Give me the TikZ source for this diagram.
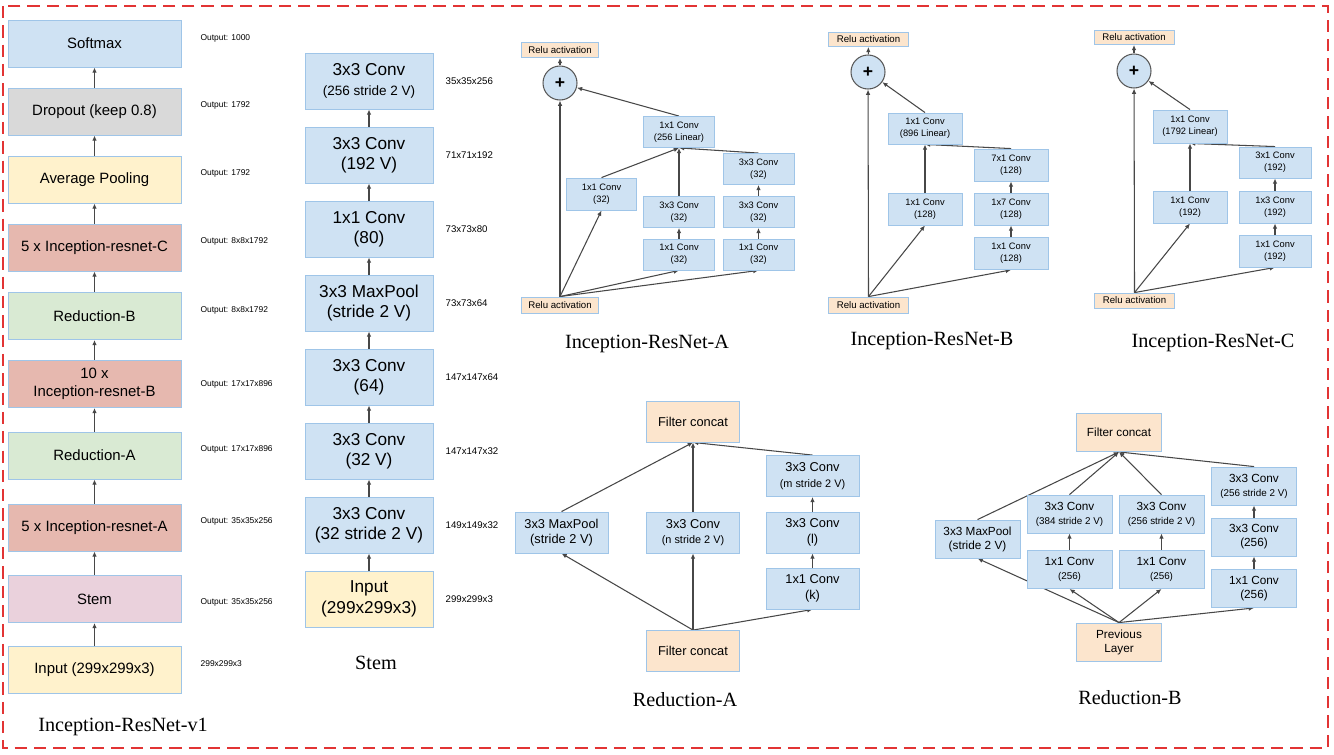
\documentclass[tikz,border=0pt]{standalone}
\usepackage{fontspec}
\setmainfont{Liberation Sans}
\newfontfamily\titlefont{Liberation Serif}
\usetikzlibrary{arrows.meta,positioning,backgrounds}
\definecolor{bluef}{RGB}{207,226,243}
\definecolor{grayf}{RGB}{217,217,217}
\definecolor{yellowf}{RGB}{255,242,204}
\definecolor{redf}{RGB}{230,184,175}
\definecolor{greenf}{RGB}{217,234,211}
\definecolor{pinkf}{RGB}{234,209,220}
\definecolor{orangef}{RGB}{252,229,205}
\definecolor{edgeb}{RGB}{159,197,232}
\definecolor{dashred}{RGB}{226,52,52}
\newcommand{\subsize}[1]{\fontsize{#1}{#1}\selectfont}

\begin{document}
\begin{tikzpicture}[x=0.02cm, y=-0.02cm, >={Latex[length=3pt,width=2.6pt]},
    every node/.style={align=center},
    lbox/.style={draw=edgeb, line width=0.5pt, fill=#1, minimum width=3.46cm, minimum height=0.94cm, font=\fontsize{8.5}{10}\selectfont},
    sbox/.style={draw=edgeb, line width=0.5pt, fill=#1, minimum width=2.56cm, minimum height=1.12cm, inner sep=1pt, font=\fontsize{9.8}{11.6}\selectfont},
    ibox/.style={draw=edgeb, line width=0.5pt, fill=bluef, minimum width=#1, minimum height=0.62cm, inner sep=1pt, font=\fontsize{5.3}{6.6}\selectfont},
    relu/.style={draw=edgeb, line width=0.5pt, fill=orangef, minimum width=#1, minimum height=0.3cm, inner sep=0.5pt, font=\fontsize{5.5}{6}\selectfont},
    plusc/.style={circle, draw=black!65, line width=0.6pt, fill=bluef, minimum size=0.68cm, inner sep=0pt, font=\bfseries\fontsize{10}{10}\selectfont},
    rbox/.style={draw=edgeb, line width=0.5pt, fill=#1, minimum width=1.86cm, minimum height=0.82cm, inner sep=1pt, font=\fontsize{7.3}{8.8}\selectfont},
    bbox/.style={draw=edgeb, line width=0.5pt, fill=#1, minimum width=1.7cm, minimum height=0.76cm, inner sep=1pt, font=\fontsize{6.7}{8}\selectfont},
    outl/.style={font=\fontsize{4.8}{5}\selectfont},
    diml/.style={font=\fontsize{5.5}{6}\selectfont},
    ttl/.style={font=\titlefont\fontsize{11.5}{13}\selectfont},
    flow/.style={->, draw=black!72, line width=0.6pt}]
  \useasboundingbox (0,0) rectangle (1334,754);
  \draw[dashred, line width=1.4pt, dash pattern=on 7pt off 4pt] (3,6) rectangle (1328,748);

  \node[lbox=bluef] (soft) at (94.5,43.5) {Softmax};
  \node[lbox=grayf] (drop) at (94.5,111.5) {Dropout (keep 0.8)};
  \node[lbox=yellowf] (avg) at (94.5,179.5) {Average Pooling};
  \node[lbox=redf] (irc) at (94.5,247.5) {5 x Inception-resnet-C};
  \node[lbox=greenf] (redb) at (94.5,316) {Reduction-B};
  \node[lbox=redf] (irb) at (94.5,384) {10 x\\Inception-resnet-B};
  \node[lbox=greenf] (reda) at (94.5,455.5) {Reduction-A};
  \node[lbox=redf] (ira) at (94.5,527.5) {5 x Inception-resnet-A};
  \node[lbox=pinkf] (stem) at (94.5,599) {Stem};
  \node[lbox=yellowf] (inp) at (94.5,670) {Input (299x299x3)};
  \foreach \n/\t/\dy in {soft/{Output: 1000}/5, drop/{Output: 1792}/6, avg/{Output: 1792}/6,
      irc/{Output: 8x8x1792}/6, redb/{Output: 8x8x1792}/6, irb/{Output: 17x17x896}/0,
      reda/{Output: 17x17x896}/6, ira/{Output: 35x35x256}/6, stem/{Output: 35x35x256}/-3,
      inp/{299x299x3}/6}
    \node[outl, right=0.26cm of \n, anchor=west, yshift=\dy*0.02cm] (o\n) {\t};
  \node[ttl] (tv1) at (123,727) {Inception-ResNet-v1};

  \node[sbox=bluef] (s7) at (369,81) {3x3 Conv\\{\subsize{7.7}(256 stride 2 V)}};
  \node[sbox=bluef] (s6) at (369,155) {3x3 Conv\\(192 V)};
  \node[sbox=bluef] (s5) at (369,229) {1x1 Conv\\(80)};
  \node[sbox=bluef] (s4) at (369,303) {3x3 MaxPool\\(stride 2 V)};
  \node[sbox=bluef] (s3) at (369,377) {3x3 Conv\\(64)};
  \node[sbox=bluef] (s2) at (369,451) {3x3 Conv\\(32 V)};
  \node[sbox=bluef] (s1) at (369,525) {3x3 Conv\\(32 stride 2 V)};
  \node[sbox=yellowf] (s0) at (369,599) {Input\\(299x299x3)};
  \foreach \n/\t in {s7/35x35x256, s6/71x71x192, s5/73x73x80, s4/73x73x64,
      s3/147x147x64, s2/147x147x32, s1/149x149x32, s0/299x299x3}
    \node[diml, right=0.12cm of \n, anchor=west] (d\n) {\t};
  \node[ttl] (tstem) at (376,663) {Stem};

  \node[relu=1.54cm] (reluTa) at (560,50) {Relu activation};
  \node[plusc] (plusA) at (560,83) {+};
  \node[ibox=1.42cm] (linA) at (679,132) {1x1 Conv\\(256 Linear)};
  \node[ibox=1.4cm, minimum height=0.64cm] (c1A) at (601.5,194) {1x1 Conv\\(32)};
  \node[ibox=1.42cm] (r3A) at (758.5,169) {3x3 Conv\\(32)};
  \node[ibox=1.42cm] (m3A) at (679,212) {3x3 Conv\\(32)};
  \node[ibox=1.42cm] (r3bA) at (758.5,212) {3x3 Conv\\(32)};
  \node[ibox=1.42cm] (m1A) at (679,254.5) {1x1 Conv\\(32)};
  \node[ibox=1.42cm] (r1A) at (758.5,254.5) {1x1 Conv\\(32)};
  \node[relu=1.54cm, minimum height=0.32cm] (reluBa) at (560,305) {Relu activation};
  \node[ttl] (tA) at (647,344) {Inception-ResNet-A};

  \node[relu=1.6cm, minimum height=0.28cm] (reluTb) at (868.5,39.5) {Relu activation};
  \node[plusc] (plusB) at (868,72) {+};
  \node[ibox=1.48cm] (linB) at (925,128.5) {1x1 Conv\\(896 Linear)};
  \node[ibox=1.48cm, minimum height=0.64cm] (c1B) at (925,209) {1x1 Conv\\(128)};
  \node[ibox=1.48cm, minimum height=0.64cm] (r7B) at (1011,165) {7x1 Conv\\(128)};
  \node[ibox=1.48cm, minimum height=0.64cm] (r17B) at (1011,209) {1x7 Conv\\(128)};
  \node[ibox=1.48cm, minimum height=0.64cm] (r1B) at (1011,253.5) {1x1 Conv\\(128)};
  \node[relu=1.6cm, minimum height=0.32cm] (reluBb) at (868.5,305) {Relu activation};
  \node[ttl] (tB) at (932,341) {Inception-ResNet-B};

  \node[relu=1.6cm, minimum height=0.28cm] (reluTc) at (1134,37.5) {Relu activation};
  \node[plusc] (plusC) at (1134,71) {+};
  \node[ibox=1.48cm, minimum height=0.66cm] (linC) at (1190,126.5) {1x1 Conv\\(1792 Linear)};
  \node[ibox=1.48cm, minimum height=0.64cm] (c1C) at (1190,207) {1x1 Conv\\(192)};
  \node[ibox=1.44cm] (r31C) at (1275,162.5) {3x1 Conv\\(192)};
  \node[ibox=1.44cm, minimum height=0.64cm] (r13C) at (1275,207) {1x3 Conv\\(192)};
  \node[ibox=1.44cm, minimum height=0.64cm] (r1C) at (1275,251) {1x1 Conv\\(192)};
  \node[relu=1.6cm] (reluBc) at (1134.5,300.5) {Relu activation};
  \node[ttl] (tC) at (1213,343) {Inception-ResNet-C};

  \node[rbox=orangef] (fcTa) at (693,421.5) {Filter concat};
  \node[rbox=bluef] (mpA) at (561.5,532.5) {3x3 MaxPool\\(stride 2 V)};
  \node[rbox=bluef] (nA) at (693,532.5) {3x3 Conv\\{\subsize{6.2}(n stride 2 V)}};
  \node[rbox=bluef] (mA) at (812.5,476) {3x3 Conv\\{\subsize{6.2}(m stride 2 V)}};
  \node[rbox=bluef] (lA) at (812.5,532.5) {3x3 Conv\\(l)};
  \node[rbox=bluef] (kA) at (812.5,588.5) {1x1 Conv\\(k)};
  \node[rbox=orangef] (fcBa) at (693,651) {Filter concat};
  \node[ttl] (tRA) at (685,700) {Reduction-A};

  \node[bbox=orangef] (fcTb) at (1119,432.5) {Filter concat};
  \node[bbox=bluef] (mpB) at (977.5,539) {3x3 MaxPool\\(stride 2 V)};
  \node[bbox=bluef] (c2tB) at (1069.5,514) {3x3 Conv\\{\subsize{5.6}(384 stride 2 V)}};
  \node[bbox=bluef] (c2bB) at (1069.5,569.5) {1x1 Conv\\{\subsize{5.6}(256)}};
  \node[bbox=bluef] (c3tB) at (1161.5,514) {3x3 Conv\\{\subsize{5.6}(256 stride 2 V)}};
  \node[bbox=bluef] (c3bB) at (1161.5,569.5) {1x1 Conv\\{\subsize{5.6}(256)}};
  \node[bbox=bluef] (c4tB) at (1254,486) {3x3 Conv\\{\subsize{5.6}(256 stride 2 V)}};
  \node[bbox=bluef] (c4mB) at (1254,537) {3x3 Conv\\(256)};
  \node[bbox=bluef] (c4bB) at (1254,588.5) {1x1 Conv\\(256)};
  \node[bbox=orangef] (prevB) at (1119,642) {Previous\\Layer};
  \node[ttl] (tRB) at (1130,698) {Reduction-B};

  \begin{scope}[on background layer]
    \fill[white] (0,0) rectangle (1334,754);
    \foreach \a/\b in {inp/stem, stem/ira, ira/reda, reda/irb, irb/redb, redb/irc, irc/avg, avg/drop, drop/soft,
        s0/s1, s1/s2, s2/s3, s3/s4, s4/s5, s5/s6, s6/s7}
      \draw[flow] (\a) -- (\b);
    \foreach \a/\b in {reluBa.north/plusA, reluBa.north/c1A.south, reluBa.north/m1A.south, reluBa.north/r1A.south,
        m1A/m3A, r1A/r3bA, r3bA/r3A, c1A.north/linA.south, m3A/linA, r3A.north/linA.south, linA.north/plusA, plusA/reluTa,
        reluBb.north/plusB, reluBb.north/c1B.south, reluBb.north/r1B.south, r1B/r17B, r17B/r7B,
        c1B/linB, r7B.north/linB.south, linB.north/plusB, plusB/reluTb,
        reluBc.north/plusC, reluBc.north/c1C.south, reluBc.north/r1C.south, r1C/r13C, r13C/r31C,
        c1C/linC, r31C.north/linC.south, linC.north/plusC, plusC/reluTc}
      \draw[flow] (\a) -- (\b);
    \foreach \a/\b in {fcBa.north/mpA.south, fcBa/nA, fcBa.north/kA.south, kA/lA, lA/mA,
        mpA.north/fcTa.south, nA/fcTa, mA.north/fcTa.south,
        prevB.north/mpB.south, prevB.north/c2bB.south, prevB.north/c3bB.south, prevB.north/c4bB.south,
        c2bB/c2tB, c3bB/c3tB, c4bB/c4mB, c4mB/c4tB,
        mpB.north/fcTb.south, c2tB.north/fcTb.south, c3tB.north/fcTb.south, c4tB.north/fcTb.south}
      \draw[flow] (\a) -- (\b);
  \end{scope}
\end{tikzpicture}
\end{document}
